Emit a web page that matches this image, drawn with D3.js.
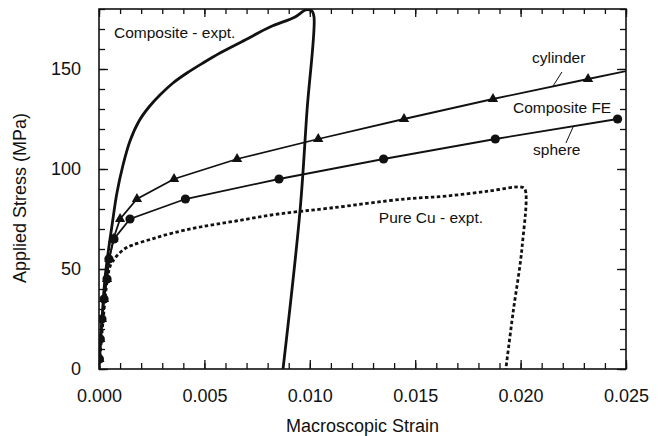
<!DOCTYPE html>
<html>
<head>
<meta charset="utf-8">
<script src="https://cdn.jsdelivr.net/npm/d3@7"></script>
<style>
  body { margin: 0; background: #fff; }
  svg text { font-family: "Liberation Sans", Arial, Helvetica, sans-serif; fill: #111; }
</style>
</head>
<body>
<div id="chart"></div>
<script>
// FE model points, one marker every 10 MPa
var feStress = [5, 15, 25, 35, 45, 55, 65, 75, 85, 95, 105, 115, 125, 135, 145, 155];
var sphereStrain = [0.00002, 0.00006, 0.00014, 0.00024, 0.00038, 0.00047, 0.00071, 0.00147, 0.0041, 0.00854, 0.0135, 0.0188, 0.0246];
var cylinderStrain = [0.00002, 0.00006, 0.00014, 0.00024, 0.00038, 0.00049, 0.00068, 0.001, 0.0018, 0.00356, 0.00655, 0.0104, 0.01447, 0.01869, 0.0232, 0.0278];

// experiments (load + unload)
var compositeStrain = [0, 0.00014, 0.00028, 0.00043, 0.00062, 0.00085, 0.00114, 0.00147, 0.0019, 0.00237, 0.00289, 0.00351, 0.00417, 0.00493, 0.00574, 0.00693, 0.00811, 0.0093, 0.0098, 0.0101, 0.0102, 0.00987, 0.00954, 0.00873];
var compositeStress = [0, 24.5, 45, 58, 72, 88, 102, 114, 124, 131, 137, 143, 148, 153, 158, 164.5, 171, 176, 179.5, 179, 176, 129.5, 79.5, 0];
var cuStrain = [0, 0.0002, 0.0004, 0.00055, 0.0008, 0.0012, 0.0016, 0.0025, 0.0035, 0.0048, 0.0065, 0.0085, 0.011, 0.0145, 0.0165, 0.0185, 0.02, 0.0202, 0.02007, 0.01964, 0.0193];
var cuStress = [0, 25, 45, 52, 56, 60, 62, 65, 68, 71, 74, 77.5, 80.5, 85, 86.5, 89, 91, 90, 61, 28, 0];

var xTicks = [0, 0.005, 0.010, 0.015, 0.020, 0.025];
var yTicks = [0, 50, 100, 150];

var width = 660, height = 436;
var margin = { top: 9, right: 34, bottom: 67, left: 99 };

var svg = d3.select('#chart').append('svg')
    .attr('width', width)
    .attr('height', height);

svg.append('rect').attr('width', width).attr('height', height).attr('fill', '#fff');

var x = d3.scaleLinear().domain([0, 0.025]).range([margin.left, width - margin.right]);
var y = d3.scaleLinear().domain([0, 180]).range([height - margin.bottom, margin.top]);

svg.append('clipPath').attr('id', 'plot-clip')
  .append('rect')
    .attr('x', margin.left).attr('y', margin.top)
    .attr('width', width - margin.left - margin.right)
    .attr('height', height - margin.top - margin.bottom);

// axes - ticks point inward on all four sides
var minorX = d3.range(0, 0.0251, 0.001);
var minorY = d3.range(0, 181, 10);

function styleAxis(g){
  g.select('.domain').remove();
  g.selectAll('.tick line').attr('stroke', '#111').attr('stroke-width', 1.3);
  g.selectAll('.tick text').style('font-size', '18px').attr('fill', '#111');
}

svg.append('g')
    .attr('transform', 'translate(0,' + y(0) + ')')
    .call(d3.axisBottom(x).tickValues(minorX).tickSize(-6).tickFormat(''))
    .call(styleAxis);
svg.append('g')
    .attr('transform', 'translate(0,' + y(0) + ')')
    .call(d3.axisBottom(x).tickValues(xTicks).tickSize(-9).tickPadding(20).tickFormat(d3.format('.3f')))
    .call(styleAxis);
svg.append('g')
    .attr('transform', 'translate(0,' + margin.top + ')')
    .call(d3.axisTop(x).tickValues(minorX).tickSize(-5).tickFormat(''))
    .call(styleAxis);
svg.append('g')
    .attr('transform', 'translate(0,' + margin.top + ')')
    .call(d3.axisTop(x).tickValues(xTicks).tickSize(-8).tickFormat(''))
    .call(styleAxis);

svg.append('g')
    .attr('transform', 'translate(' + margin.left + ',0)')
    .call(d3.axisLeft(y).tickValues(minorY).tickSize(-6).tickFormat(''))
    .call(styleAxis);
svg.append('g')
    .attr('transform', 'translate(' + margin.left + ',0)')
    .call(d3.axisLeft(y).tickValues(yTicks).tickSize(-9).tickPadding(18))
    .call(styleAxis);
svg.append('g')
    .attr('transform', 'translate(' + (width - margin.right) + ',0)')
    .call(d3.axisRight(y).tickValues(minorY).tickSize(-6).tickFormat(''))
    .call(styleAxis);
svg.append('g')
    .attr('transform', 'translate(' + (width - margin.right) + ',0)')
    .call(d3.axisRight(y).tickValues(yTicks).tickSize(-9).tickFormat(''))
    .call(styleAxis);

// frame
svg.append('rect')
    .attr('x', margin.left).attr('y', margin.top)
    .attr('width', width - margin.left - margin.right)
    .attr('height', height - margin.top - margin.bottom)
    .attr('fill', 'none')
    .attr('stroke', '#111')
    .attr('stroke-width', 1.6);

// axis titles
svg.append('text')
    .attr('x', (margin.left + width - margin.right) / 2)
    .attr('y', 432)
    .attr('text-anchor', 'middle')
    .style('font-size', '18px')
    .text('Macroscopic Strain');
svg.append('text')
    .attr('transform', 'translate(26,' + 198 + ') rotate(-90)')
    .attr('text-anchor', 'middle')
    .style('font-size', '18px')
    .text('Applied Stress (MPa)');

var plot = svg.append('g').attr('clip-path', 'url(#plot-clip)');

var line = d3.line()
    .x(function(d){ return x(d[0]); })
    .y(function(d){ return y(d[1]); });

var composite = d3.zip(compositeStrain, compositeStress);
var pureCu = d3.zip(cuStrain, cuStress);
var sphere = d3.zip(sphereStrain, feStress);
var cylinder = d3.zip(cylinderStrain, feStress);

plot.append('path')
    .datum(pureCu)
    .attr('d', line.curve(d3.curveCatmullRom.alpha(0.5)))
    .attr('fill', 'none')
    .attr('stroke', '#111')
    .attr('stroke-width', 2.8)
    .attr('stroke-dasharray', '3.5,2.5');

plot.append('path')
    .datum(composite)
    .attr('d', line.curve(d3.curveCatmullRom.alpha(0.5)))
    .attr('fill', 'none')
    .attr('stroke', '#111')
    .attr('stroke-width', 2.8)
    .attr('stroke-linejoin', 'round');

line.curve(d3.curveLinear);

[sphere, cylinder].forEach(function(series){
  plot.append('path')
      .datum(series)
      .attr('d', line)
      .attr('fill', 'none')
      .attr('stroke', '#111')
      .attr('stroke-width', 1.8);
});

plot.selectAll('.tri')
  .data(cylinder)
  .enter().append('path')
    .attr('class', 'tri')
    .attr('transform', function(d){ return 'translate(' + x(d[0]) + ',' + y(d[1]) + ')'; })
    .attr('d', d3.symbol().type(d3.symbolTriangle).size(46))
    .attr('fill', '#111');

plot.selectAll('.dot')
  .data(sphere)
  .enter().append('circle')
    .attr('class', 'dot')
    .attr('cx', function(d){ return x(d[0]); })
    .attr('cy', function(d){ return y(d[1]); })
    .attr('r', 4.6)
    .attr('fill', '#111');

// annotations
function note(txt, sx, sy, anchor){
  svg.append('text')
      .attr('x', x(sx)).attr('y', y(sy))
      .attr('text-anchor', anchor || 'start')
      .style('font-size', '15.5px')
      .text(txt);
}
note('Composite - expt.', 0.00071, 165.5);
note('cylinder', 0.02054, 153);
note('Composite FE', 0.01964, 128);
note('sphere', 0.02059, 107);
note('Pure Cu - expt.', 0.01822, 73, 'end');

function leader(x1, y1, x2, y2){
  svg.append('line')
      .attr('x1', x(x1)).attr('y1', y(y1))
      .attr('x2', x(x2)).attr('y2', y(y2))
      .attr('stroke', '#111')
      .attr('stroke-width', 1);
}
leader(0.02196, 148.5, 0.02154, 141.5);
leader(0.02249, 121, 0.02215, 113);
</script>
</body>
</html>
